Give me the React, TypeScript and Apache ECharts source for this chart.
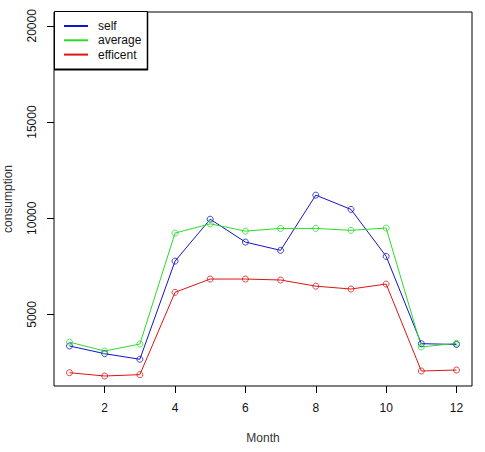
import React, { useEffect, useRef } from "react";
import * as echarts from "echarts";

// Monthly consumption, months 1..12
const months = [1, 2, 3, 4, 5, 6, 7, 8, 9, 10, 11, 12];
const selfValues = [3360, 2960, 2670, 7770, 9950, 8760, 8330, 11200, 10460, 8020, 3480, 3440];
const averageValues = [3560, 3100, 3460, 9230, 9710, 9330, 9470, 9470, 9370, 9490, 3310, 3500];
const efficentValues = [1970, 1800, 1870, 6150, 6840, 6840, 6790, 6470, 6320, 6580, 2060, 2110];

const xTicks = [2, 4, 6, 8, 10, 12];
const yTicks = [5000, 10000, 15000, 20000];

const seriesNames = ["self", "average", "efficent"];
const seriesColors = ["#1414C8", "#2ADC2A", "#DC1414"];

const FONT = "'Liberation Sans', Arial, sans-serif";

export default function App() {
  const ref = useRef<HTMLDivElement>(null);

  useEffect(() => {
    if (!ref.current) return;
    const chart = echarts.init(ref.current, undefined, { renderer: "svg" });

    const toPairs = (vals: number[]) => months.map((m, i) => [m, vals[i]]);
    const allValues = [selfValues, averageValues, efficentValues];

    const legendTop = 12;
    const legendLeft = 54;
    const rowGap = 14.3;
    const legendChildren: any[] = [
      {
        type: "rect",
        shape: { x: legendLeft + 0.5, y: legendTop - 0.5, width: 93, height: 58 },
        style: { fill: "#fff", stroke: "#000", lineWidth: 1 },
      },
      {
        type: "line",
        shape: { x1: legendLeft, y1: legendTop + 57.5, x2: legendLeft + 94, y2: legendTop + 57.5 },
        style: { stroke: "#000", lineWidth: 2 },
      },
      {
        type: "line",
        shape: { x1: legendLeft + 93.5, y1: legendTop, x2: legendLeft + 93.5, y2: legendTop + 58 },
        style: { stroke: "#000", lineWidth: 1.5 },
      },
    ];
    seriesNames.forEach((name, i) => {
      const cy = legendTop + 14 + i * rowGap;
      legendChildren.push({
        type: "line",
        shape: { x1: 64, y1: cy, x2: 88, y2: cy },
        style: { stroke: seriesColors[i], lineWidth: 2 },
      });
      legendChildren.push({
        type: "text",
        x: 98,
        y: cy,
        style: {
          text: name,
          fill: "#111",
          font: `12px ${FONT}`,
          verticalAlign: "middle",
          align: "left",
        },
      });
    });

    chart.setOption({
      animation: false,
      backgroundColor: "#fff",
      textStyle: { fontFamily: FONT },
      grid: {
        left: 54,
        right: 13,
        top: 12,
        bottom: 66,
        show: true,
        borderColor: "#000",
        borderWidth: 1,
        containLabel: false,
        outerBoundsMode: "none",
      },
      xAxis: {
        type: "value",
        min: 0.56,
        max: 12.44,
        name: "Month",
        nameLocation: "middle",
        nameGap: 46,
        nameTextStyle: { fontSize: 12, color: "#333", fontFamily: FONT },
        axisLine: { show: false },
        splitLine: { show: false },
        axisTick: {
          show: true,
          length: 7,
          customValues: xTicks,
          lineStyle: { color: "#000" },
        },
        axisLabel: {
          customValues: xTicks,
          margin: 16,
          fontSize: 12,
          color: "#111",
          fontFamily: FONT,
          formatter: (v: number) => String(v),
        },
      },
      yAxis: {
        type: "value",
        min: 1280,
        max: 20720,
        name: "consumption",
        nameLocation: "middle",
        nameRotate: 90,
        nameGap: 40,
        nameTextStyle: { fontSize: 12, color: "#333", fontFamily: FONT },
        axisLine: { show: false },
        splitLine: { show: false },
        axisTick: {
          show: true,
          length: 7,
          customValues: yTicks,
          lineStyle: { color: "#000" },
        },
        axisLabel: {
          customValues: yTicks,
          rotate: 90,
          margin: 16,
          fontSize: 12,
          color: "#111",
          fontFamily: FONT,
          formatter: (v: number) => String(v),
        },
      },
      series: seriesNames.map((name, i) => ({
        name,
        type: "line",
        data: toPairs(allValues[i]),
        symbol: "circle",
        symbolSize: 6,
        showSymbol: true,
        lineStyle: { color: seriesColors[i], width: 1 },
        itemStyle: { color: "transparent", borderColor: seriesColors[i], borderWidth: 0.8 },
        emphasis: { disabled: true },
      })),
      graphic: legendChildren,
    });

    return () => chart.dispose();
  }, []);

  return (
    <div
      ref={ref}
      style={{ position: "fixed", left: 0, top: 0, width: 485, height: 452 }}
    />
  );
}
